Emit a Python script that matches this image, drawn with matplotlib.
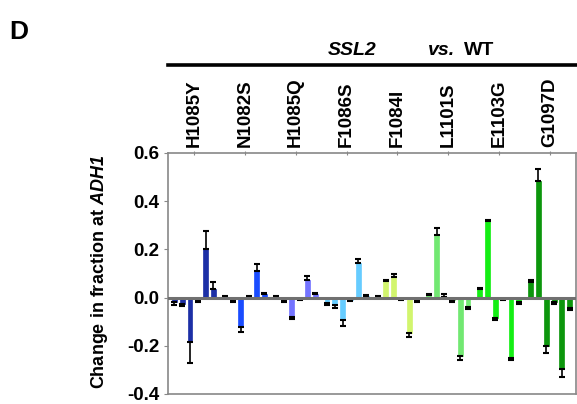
import numpy as np
import matplotlib.pyplot as plt

plt.rcParams['font.family'] = ['Liberation Sans', 'DejaVu Sans']
plt.rcParams['font.weight'] = 'bold'
plt.rcParams['mathtext.fontset'] = 'custom'
plt.rcParams['mathtext.bf'] = 'Liberation Sans:bold:italic'

mutants = ["H1085Y", "N1082S", "H1085Q", "F1086S", "F1084I", "L1101S", "E1103G", "G1097D"]
colors = ["#1c2fa6", "#1a4cff", "#7474ff", "#66ccff", "#d2f56e", "#72e872", "#14ee14", "#0c960c"]

# six bars per mutant
values = [
    [-0.020, -0.025, -0.185, -0.010, 0.200, 0.035],
    [0.003, -0.015, -0.120, 0.003, 0.110, 0.015],
    [0.003, -0.015, -0.080, -0.005, 0.075, 0.015],
    [-0.022, -0.030, -0.095, -0.010, 0.145, 0.007],
    [0.003, 0.070, 0.085, -0.005, -0.145, -0.015],
    [0.012, 0.258, 0.003, -0.012, -0.243, -0.037],
    [0.035, 0.319, -0.083, -0.005, -0.250, -0.020],
    [0.066, 0.482, -0.200, -0.020, -0.298, -0.042],
]
errors = [
    [0.010, 0.010, 0.085, 0.010, 0.075, 0.028],
    [0.003, 0.005, 0.022, 0.003, 0.028, 0.005],
    [0.003, 0.005, 0.008, 0.003, 0.016, 0.004],
    [0.010, 0.012, 0.022, 0.006, 0.016, 0.004],
    [0.003, 0.005, 0.014, 0.003, 0.017, 0.004],
    [0.004, 0.030, 0.010, 0.006, 0.014, 0.011],
    [0.004, 0.004, 0.010, 0.003, 0.011, 0.005],
    [0.006, 0.050, 0.030, 0.005, 0.033, 0.009],
]

fig = plt.figure(figsize=(5.77, 4.04), dpi=100)
ax = fig.add_axes([0.2912, 0.0248, 0.7071, 0.5965])

step = 6.5
centers = []
for g in range(len(mutants)):
    x = g * step + np.arange(6)
    v = np.array(values[g])
    e = np.array(errors[g])
    centers.append(g * step + 2.5)
    ax.bar(x, v, width=0.62, color=colors[g], edgecolor=colors[g],
           linewidth=0.5, zorder=2)
    ax.errorbar(x, v, yerr=[np.where(v < 0, e, 0), np.where(v >= 0, e, 0)],
                fmt='none', ecolor='black', elinewidth=1.2, capsize=2, capthick=1.5, zorder=3)

ax.axhline(0, color='#707070', lw=2.2, zorder=4)
ax.set_xlim(-0.8, 7 * step + 5 + 0.8)
ax.set_ylim(-0.4, 0.6)
ax.set_yticks([-0.4, -0.2, 0.0, 0.2, 0.4, 0.6])
ax.set_yticklabels(["-0.4", "-0.2", "0.0", "0.2", "0.4", "0.6"], fontsize=13.5, fontweight='bold')
ax.tick_params(axis='y', length=3, color='#888888', pad=3)
ax.xaxis.tick_top()
ax.set_xticks(centers)
ax.set_xticklabels(mutants, rotation=90, fontsize=13.5, fontweight='bold')
ax.tick_params(axis='x', length=3, color='#888888', direction='inout', pad=3)
for s in ax.spines.values():
    s.set_color('#888888')
    s.set_linewidth(1.2)

ax.set_ylabel(r"Change in fraction at $\mathbf{ADH1}$", fontsize=13, fontweight='bold')
ax.yaxis.set_label_coords(-0.142, 0.505)

fig.text(0.016, 0.903, "D", fontsize=19, fontweight='bold', va='baseline')
fig.text(0.61, 0.864, "SSL2", fontsize=14, fontweight='bold', style='italic', ha='center', va='baseline')
fig.text(0.742, 0.864, "vs.", fontsize=14, fontweight='bold', style='italic', ha='left', va='baseline')
fig.text(0.804, 0.864, "WT", fontsize=14, fontweight='bold', ha='left', va='baseline')
fig.add_artist(plt.Line2D([0.2912, 1.0], [0.839, 0.839], color='black', lw=2.6, transform=fig.transFigure))

fig.savefig("out.png", dpi=100)
